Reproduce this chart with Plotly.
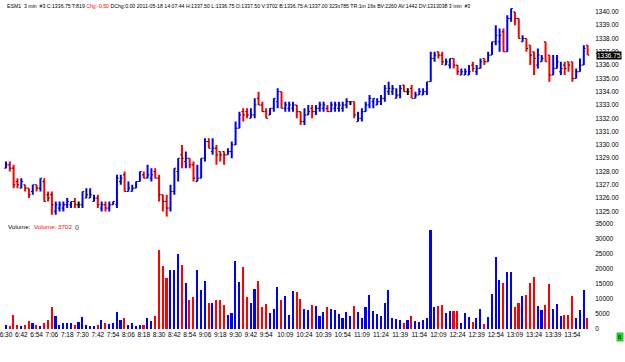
import plotly.graph_objects as go

# ---------------- data ----------------
opens = [1328.25,1328.5,1328.25,1327.25,1326.75,1327.0,1326.75,1326.5,1327.0,1326.75,
         1327.25,1326.25,1326.25,1325.0,1325.25,1325.25,1325.5,1325.5,1325.75,1325.5,
         1325.5,1326.0,1326.0,1325.75,1326.0,1325.25,1325.5,1325.25,1325.5,1325.5,
         1327.25,1327.75,1326.5,1326.5,1326.75,1327.25,1327.75,1327.5,1327.5,1328.0,
         1327.5,1326.25,1325.75,1325.25,1326.5,1328.0,1329.25,1328.75,1329.0,1328.5,
         1327.25,1327.5,1329.0,1330.25,1329.5,1329.75,1329.5,1329.5,1329.25,1329.5,
         1330.0,1331.25,1332.5,1332.5,1332.0,1332.25,1333.5,1333.0,1332.5,1332.25,
         1332.75,1333.25,1334.0,1332.75,1332.75,1332.75,1333.0,1332.5,1331.75,1332.25,
         1332.75,1332.5,1332.75,1332.75,1332.75,1332.5,1332.75,1332.75,1332.75,1333.0,
         1333.25,1333.25,1331.75,1332.0,1332.5,1333.0,1333.25,1333.0,1333.25,1333.5,
         1334.0,1334.0,1333.5,1333.75,1334.5,1334.0,1334.25,1333.5,1333.75,1333.75,
         1334.0,1334.75,1336.5,1337.0,1336.75,1336.0,1336.0,1336.5,1336.0,1335.25,
         1335.25,1335.25,1336.0,1335.5,1335.75,1336.5,1336.25,1336.75,1337.75,1337.75,
         1338.5,1337.0,1339.5,1340.0,1339.5,1337.75,1338.0,1337.5,1337.0,1336.0,
         1336.25,1337.75,1336.75,1335.25,1335.75,1335.5,1336.0,1336.25,1336.25,1335.0,
         1335.5,1336.0,1337.5]
highs = [1328.75,1328.75,1328.5,1327.5,1327.5,1327.0,1326.75,1327.0,1327.0,1327.5,
         1327.5,1326.5,1326.5,1325.75,1325.75,1325.75,1326.0,1325.75,1326.0,1325.75,
         1326.5,1326.75,1326.75,1326.25,1326.25,1325.75,1325.75,1325.75,1325.75,1327.75,
         1327.75,1328.0,1327.25,1327.0,1327.25,1328.0,1328.0,1328.5,1328.25,1328.25,
         1327.75,1326.25,1326.25,1327.0,1328.25,1329.0,1330.0,1329.5,1329.0,1328.75,
         1328.5,1329.0,1330.5,1330.5,1330.5,1330.0,1329.5,1329.5,1329.75,1330.25,
         1331.75,1332.5,1332.75,1332.75,1332.75,1333.5,1334.0,1333.25,1332.75,1332.75,
         1333.5,1334.25,1334.0,1333.25,1333.25,1333.25,1333.0,1332.5,1332.75,1333.0,
         1333.0,1333.0,1333.25,1333.25,1333.0,1333.25,1333.25,1333.25,1333.25,1333.5,
         1333.25,1333.25,1332.5,1332.75,1333.25,1333.75,1333.5,1333.5,1333.75,1334.5,
         1334.75,1334.5,1334.25,1334.5,1334.5,1334.25,1334.5,1334.0,1334.25,1334.25,
         1334.75,1337.0,1337.0,1337.0,1337.0,1336.5,1336.5,1336.5,1336.0,1335.75,
         1335.75,1336.0,1336.25,1336.0,1336.5,1336.5,1337.0,1337.75,1339.0,1338.75,
         1338.75,1339.75,1340.25,1340.0,1339.5,1338.25,1338.0,1337.5,1337.0,1337.25,
         1336.75,1337.75,1336.75,1336.75,1336.75,1336.25,1336.25,1336.25,1336.25,1335.75,
         1336.5,1337.5,1337.5]
lows = [1328.25,1328.0,1326.75,1326.75,1326.75,1326.5,1326.0,1326.25,1326.5,1326.5,
        1325.75,1325.75,1324.75,1324.75,1325.0,1325.0,1325.25,1325.25,1325.25,1325.25,
        1325.25,1326.0,1326.0,1325.75,1325.25,1325.0,1325.0,1325.0,1325.5,1325.25,
        1327.0,1326.5,1326.5,1326.5,1326.75,1327.25,1327.5,1327.5,1327.25,1327.5,
        1325.75,1325.0,1324.5,1325.0,1326.25,1327.25,1328.25,1328.25,1328.25,1327.25,
        1327.25,1327.5,1328.75,1329.75,1329.25,1328.5,1328.75,1328.5,1329.25,1329.0,
        1330.0,1331.25,1331.75,1332.0,1332.0,1332.0,1333.0,1332.5,1332.0,1332.25,
        1332.5,1332.75,1332.75,1332.5,1332.5,1332.5,1332.0,1331.5,1331.5,1332.25,
        1332.0,1332.25,1332.5,1332.5,1332.5,1332.5,1332.5,1332.5,1332.5,1332.75,
        1333.0,1332.0,1331.75,1331.75,1332.5,1332.75,1332.75,1333.0,1333.0,1333.25,
        1333.75,1333.75,1333.5,1333.5,1334.0,1333.75,1333.5,1333.5,1333.75,1333.75,
        1333.75,1334.75,1336.25,1336.5,1336.0,1336.0,1335.75,1335.75,1335.25,1335.25,
        1335.25,1335.25,1335.5,1335.25,1335.75,1336.0,1336.25,1336.75,1337.5,1337.0,
        1337.0,1337.0,1339.25,1339.0,1338.0,1337.75,1337.0,1336.0,1335.25,1335.75,
        1336.25,1336.25,1334.75,1335.25,1335.75,1335.25,1335.25,1335.5,1334.75,1335.0,
        1335.5,1336.0,1336.75]
closes = [1328.5,1328.25,1327.0,1327.0,1327.25,1326.75,1326.25,1327.0,1326.75,1327.5,
          1325.75,1326.0,1325.5,1325.5,1325.5,1325.5,1325.75,1325.75,1325.5,1325.5,
          1326.5,1326.25,1326.25,1326.0,1325.5,1325.5,1325.25,1325.5,1325.75,1327.5,
          1327.5,1326.5,1326.75,1326.75,1327.25,1328.0,1327.5,1327.75,1327.75,1327.5,
          1326.25,1325.75,1325.25,1326.5,1328.25,1329.0,1329.0,1329.0,1328.5,1327.5,
          1327.5,1329.0,1330.25,1329.75,1329.75,1329.25,1329.25,1329.25,1329.5,1330.0,
          1331.25,1332.25,1332.25,1332.25,1332.25,1333.0,1333.0,1332.5,1332.0,1332.75,
          1333.5,1334.0,1332.75,1333.0,1333.0,1333.0,1332.5,1331.75,1332.25,1332.5,
          1332.5,1332.75,1333.0,1333.0,1332.5,1333.0,1333.0,1333.0,1333.0,1333.25,
          1333.25,1332.25,1332.0,1332.5,1333.0,1333.5,1333.5,1333.25,1333.5,1334.25,
          1334.25,1334.25,1333.75,1334.25,1334.0,1334.0,1333.5,1333.75,1334.0,1334.0,
          1334.75,1336.5,1336.75,1336.75,1336.25,1336.25,1336.5,1336.0,1335.5,1335.5,
          1335.5,1335.5,1335.75,1335.75,1336.25,1336.25,1336.75,1337.75,1338.25,1338.25,
          1337.0,1339.5,1340.25,1339.5,1338.0,1338.0,1337.25,1336.75,1336.5,1336.75,
          1336.5,1336.25,1335.25,1335.75,1336.25,1335.75,1335.75,1336.0,1335.0,1335.5,
          1336.0,1337.25,1336.75]
volumes = [1400,1100,4700,1400,900,1500,2700,1900,1500,1200,
           2000,3200,7450,4300,1500,2000,2000,2000,1500,2500,
           4200,1400,1200,1200,1500,3200,2000,1600,1900,5600,
           3200,3700,1500,2000,900,1500,1500,3700,2800,4400,
           26200,21150,17200,19700,19700,25000,21250,15350,9650,10600,
           19700,13000,16000,8800,8800,9750,9750,8000,4800,5500,
           22800,15700,20800,10850,8800,13250,16100,7450,8300,5500,
           6800,14000,9650,11050,4800,12700,12400,10100,6800,6350,
           8200,7800,4500,5700,7400,6800,6350,5150,3600,5600,
           4400,7800,5800,3600,7450,11250,6000,5150,4400,8850,
           13100,3600,3500,3200,2200,3200,4500,2750,2500,3200,
           3700,33000,7300,7650,8100,5500,6100,6100,6100,2000,
           5250,4050,2500,3600,6800,1850,4150,11600,24050,16500,
           15300,19000,19000,7450,8750,11050,11250,15300,17300,7750,
           6350,8000,15000,6800,8400,4500,4700,4800,11050,3800,
           6450,13100,3702]

tick_labels = ["6:30","6:42","6:54","7:06","7:18","7:30","7:42","7:54","8:06","8:18",
               "8:30","8:42","8:54","9:06","9:18","9:30","9:42","9:54","10:09","10:24",
               "10:39","10:54","11:09","11:24","11:39","11:54","12:09","12:24","12:39",
               "12:54","13:09","13:24","13:39","13:54"]
price_ticks = [1325,1326,1327,1328,1329,1330,1331,1332,1333,1334,1335,1336,1337,1338,1339,1340]
volume_ticks = [0,5000,10000,15000,20000,25000,30000,35000]

# bar times (3-minute bars starting 6:30)
n = len(closes)
bar_times = []
for i in range(n):
    m = 6 * 60 + 30 + 3 * i
    bar_times.append(f"{m // 60}:{m % 60:02d}")
tick_idx = [bar_times.index(t) for t in tick_labels]

BLUE, RED, BLACK = "#0000ff", "#ff0000", "#000000"

def bar_color(o, c):
    if c > o:
        return BLUE
    if c < o:
        return RED
    return BLACK

colors = [bar_color(o, c) for o, c in zip(opens, closes)]
vol_colors = [BLUE if col == BLACK else col for col in colors]

fig = go.Figure()

# high-low lines grouped by colour
for col in (BLUE, RED, BLACK):
    xs, ys = [], []
    for i in range(n):
        if colors[i] == col:
            xs += [i, i, None]
            ys += [lows[i], highs[i], None]
    fig.add_trace(go.Scatter(x=xs, y=ys, mode="lines", line=dict(color=col, width=2),
                             hoverinfo="skip", showlegend=False, xaxis="x", yaxis="y"))

# open / close ticks
tx, ty = [], []
for i in range(n):
    tx += [i - 0.45, i, None, i, i + 0.45, None]
    ty += [opens[i], opens[i], None, closes[i], closes[i], None]
fig.add_trace(go.Scatter(x=tx, y=ty, mode="lines", line=dict(color="#111111", width=1),
                         hoverinfo="skip", showlegend=False, xaxis="x", yaxis="y"))

# volume
fig.add_trace(go.Bar(x=list(range(n)), y=volumes, marker=dict(color=vol_colors, line=dict(width=0)),
                     width=0.42, showlegend=False, xaxis="x2", yaxis="y2"))

W, H = 625, 362
xr = [-0.78, 152.92]
font_fam = "Liberation Sans, Arial, sans-serif"

fig.update_layout(
    width=W, height=H, margin=dict(l=0, r=0, t=0, b=0),
    paper_bgcolor="white", plot_bgcolor="white",
    font=dict(family=font_fam, size=6.5, color="#000"),
    bargap=0,
    xaxis=dict(domain=[0, 591 / W], range=xr, showticklabels=False, showgrid=False,
               zeroline=False, showline=False, ticks="", anchor="y"),
    xaxis2=dict(domain=[0, 591 / W], range=xr, matches="x", showgrid=False, zeroline=False,
                showline=False, ticks="", anchor="y2", tickmode="array",
                ticklabeloverflow="allow",
                tickvals=tick_idx, ticktext=tick_labels, tickfont=dict(size=6.5, color="#000")),
    yaxis=dict(domain=[(H - 218) / H, 1], range=[1324.61, 1340.818], side="right",
               tickmode="array", tickvals=price_ticks, ticklabelstandoff=3,
               ticktext=[f"{v:.2f}" for v in price_ticks], showgrid=False, zeroline=False,
               showline=False, ticks="", anchor="x", tickfont=dict(size=6.5, color="#000")),
    yaxis2=dict(domain=[(H - 331.7) / H, (H - 222.3) / H], range=[0, 36000], side="right",
                tickmode="array", tickvals=volume_ticks, ticktext=[str(v) for v in volume_ticks],
                ticklabelstandoff=3,
                showgrid=False, zeroline=False, showline=False, ticks="", anchor="x2",
                tickfont=dict(size=6.5, color="#000")),
)

header = ("ESM1&nbsp;&nbsp;3 min&nbsp;&nbsp;#3 C:1336.75 T:819 "
          "<span style='color:#ff0000'>Chg:-0.50</span> DChg:0.00 2011-05-18 14:07:44 "
          "H:1337.50 L:1336.75 O:1337.50 V:3702 B:1336.75 A:1337.00 323x785 TR:1m 16s "
          "BV:2260 AV:1442 DV:1313038 3 min&nbsp;&nbsp;#3")
fig.add_annotation(text=header, xref="paper", yref="paper", x=2 / W, y=(H - 5) / H,
                   xanchor="left", yanchor="middle", showarrow=False,
                   font=dict(size=5.2, color="#000"))
fig.add_annotation(text="Volume:", xref="paper", yref="paper", x=3 / W, y=(H - 228) / H,
                   xanchor="left", yanchor="middle", showarrow=False, font=dict(size=6.2))
fig.add_annotation(text="Volume: 3702", xref="paper", yref="paper", x=29 / W, y=(H - 228) / H,
                   xanchor="left", yanchor="middle", showarrow=False,
                   font=dict(size=6.2, color="#ff0000"))
fig.add_annotation(text="()", xref="paper", yref="paper", x=70 / W, y=(H - 228) / H,
                   xanchor="left", yanchor="middle", showarrow=False, font=dict(size=6.2))
# last price box
fig.add_annotation(text=f"{closes[-1]:.2f}", xref="paper", yref="y", x=596 / W, y=closes[-1],
                   xanchor="left", yanchor="middle", showarrow=False, bgcolor="#000",
                   borderpad=0, font=dict(size=6.5, color="#fff"))
# green marker box
fig.add_annotation(text="6", xref="paper", yref="paper", x=620 / W, y=(H - 340) / H,
                   xanchor="center", yanchor="middle", showarrow=False, bgcolor="#22cc22",
                   borderpad=1, font=dict(size=6, color="#000"))

fig.write_html("out.html")
